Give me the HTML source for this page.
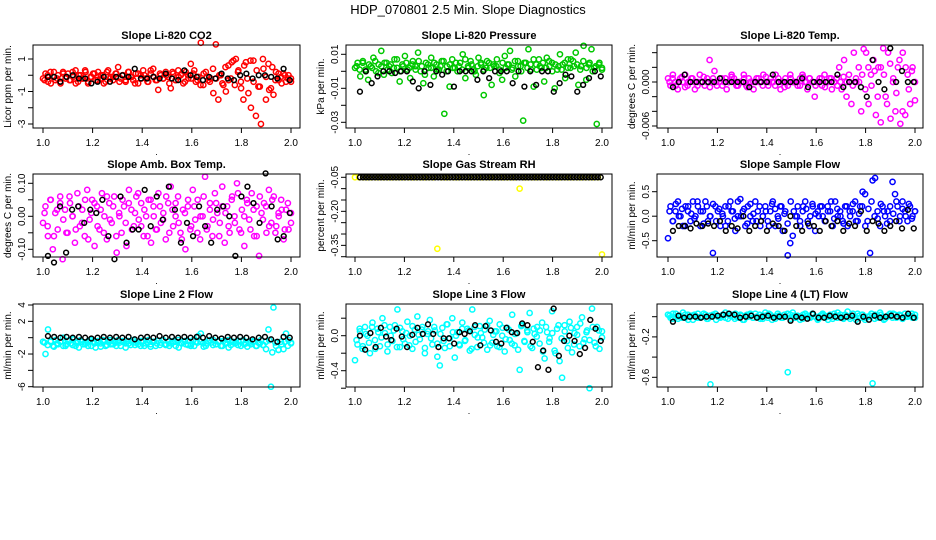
<!DOCTYPE html>
<html><head><meta charset="utf-8">
<style>
html,body{margin:0;padding:0;background:#fff;}
svg{display:block;font-family:"Liberation Sans",Arial,sans-serif;}
</style></head>
<body>
<svg id="chart" width="936" height="540" viewBox="0 0 936 540">
<text x="468" y="14" text-anchor="middle" font-size="13">HDP_070801  2.5 Min. Slope Diagnostics</text>
</svg>
<script>
const xTicks = [1.0, 1.2, 1.4, 1.6, 1.8, 2.0];
const xTickLabels = ["1.0", "1.2", "1.4", "1.6", "1.8", "2.0"];

const titles = ["Slope Li-820 CO2","Slope Li-820 Pressure","Slope Li-820 Temp.","Slope Amb. Box Temp.","Slope Gas Stream RH","Slope Sample Flow","Slope Line 2 Flow","Slope Line 3 Flow","Slope Line 4 (LT) Flow"];
const yTitles = ["Licor ppm per min.","kPa per min.","degrees C per min.","degrees C per min.","percent per min.","ml/min per min.","ml/min per min.","ml/min per min.","ml/min per min."];

const yTicks1 = [1,0,-1,-2,-3];
const yLabels1 = ["1","","-1","","-3"];
const yTicks2 = [0.01,0,-0.01,-0.02,-0.03];
const yLabels2 = ["0.01","","-0.01","","-0.03"];
const yTicks3 = [0.004,0.002,0,-0.002,-0.004,-0.006];
const yLabels3 = ["","","0.000","","","-0.006"];
const yTicks4 = [0.10,0.05,0,-0.05,-0.10];
const yLabels4 = ["0.10","","0.00","","-0.10"];
const yTicks5 = [-0.05,-0.10,-0.15,-0.20,-0.25,-0.30,-0.35,-0.40];
const yLabels5 = ["-0.05","","","-0.20","","","-0.35",""];
const yTicks6 = [0.5,0,-0.5];
const yLabels6 = ["0.5","0.0","-0.5"];
const yTicks7 = [4,2,0,-2,-4,-6];
const yLabels7 = ["4","2","","-2","","-6"];
const yTicks8 = [0.2,0,-0.2,-0.4,-0.6];
const yLabels8 = ["","0.0","","-0.4",""];
const yTicks9 = [0,-0.2,-0.4,-0.6];
const yLabels9 = ["","-0.2","","-0.6"];

const c1 = [-0.2,0.1,-0.4,0.2,-0.1,-0.3,0.0,-0.5,0.2,-0.2,0.1,-0.3,-0.1,0.3,-0.4,0.0,-0.2,0.2,-0.5,-0.1,0.1,-0.3,0.2,-0.2,0.0,-0.4,0.3,-0.1,-0.3,0.1,0.5,-0.2,0.0,-0.4,0.2,-0.1,-0.3,0.1,-0.5,0.0,0.3,-0.2,-0.4,0.1,0.4,-0.3,-0.9,0.0,-0.2,0.2,-0.1,-0.8,0.1,-0.3,0.3,0.0,-0.5,0.2,-0.2,0.7,0.1,-0.4,-0.1,2.0,-0.6,0.2,-0.3,-0.2,-1.1,1.9,-1.5,0.0,-0.6,-1.0,0.6,-0.2,0.9,1.0,0.3,-0.4,-1.5,0.8,-1.1,-2.0,0.9,-2.5,-0.7,-3.0,0.4,-1.5,0.7,-0.8,-1.2,0.2,-0.3,-0.1,0.1,-0.4,0.0,-0.2];
const e1 = [-0.3,0,-0.5,0.2,-0.2,-0.4,0.1,-0.1,-0.3,0.2,-0.5,0,-0.2,0.3,-0.4,-0.1,0.1,-0.3,0,-0.5,0.2,-0.2,-0.1,0.1,-0.4,0,-0.3,0.2,-0.1,-0.5,0.1,-0.2,0,-0.4,0.3,-0.1,-0.3,0.1,-0.2,0,-0.5,0.2,-0.3,-0.1,0.1,-0.4,0,-0.2,0.3,-0.3,-0.6,0.1,-0.1,-0.4,0.4,-0.2,0,-0.5,0.5,-0.3,0.8,-0.6,0.2,-0.8,0.6,-0.2,0.9,-0.4,0.3,-0.7,1.0,-0.1,-0.9,0.5,-0.3,0.1,-0.5,0,-0.2,-0.4];
const b1 = [-0.1,-0.1,-0.4,-0.1,0.0,-0.2,-0.2,-0.5,-0.4,-0.1,-0.4,-0.1,0.0,-0.1,0.4,-0.2,-0.2,-0.1,-0.2,0.1,-0.2,-0.3,0.3,0.0,-0.1,-0.3,-0.1,-0.2,0.1,-0.2,-0.3,0.0,0.1,-0.2,0.0,0.0,-0.1,-0.2,0.4,-0.3];
const c2 = [0.002,0.005,-0.003,0.006,0.001,-0.005,0.003,0.008,0,0.004,0.012,-0.002,0.005,0.003,-0.001,0.007,0.002,-0.006,0.004,0.009,0.001,-0.004,0.006,0.003,0.011,0,-0.007,0.005,0.002,0.008,-0.003,0.004,0.001,0.006,-0.025,0.003,-0.009,0.007,0.002,0,0.005,0.010,-0.004,0.003,0.006,0.001,-0.002,0.008,0.004,-0.014,0.002,0.005,-0.008,0.003,0.007,0.001,-0.005,0.009,0.004,0.012,0.002,-0.003,0.006,0.003,-0.029,0.005,0.013,0.001,-0.009,0.004,0.007,0.002,-0.006,0.008,0.003,0.005,-0.010,0.001,0.010,0.004,-0.004,0.007,0.002,0.006,0.011,-0.008,0.003,0.015,-0.005,0.004,0.013,0.002,-0.031,0.005,0.001];
const e2 = [0.003,0.001,0.005,0,0.004,0.002,0.006,-0.001,0.003,0.005,0.001,0.004,0.002,0.007,0,0.003,0.005,0.002,0.004,0.001,0.006,0.003,-0.002,0.004,0.002,0.005,0.001,0.003,0.006,0,0.004,0.002,0.005,0.003,0.001,0.007,0.002,0.004,0,0.003,0.005,0.001,0.006,0.002,0.004,0.003,-0.001,0.005,0.002,0.004,0.001,0.006,0.003,0,0.005,0.002,0.004,0.007,0.001,0.003,0.005,0.002,0.006,0,0.004,0.003,0.001,0.005,0.002,0.007,0.003,0.004,0.001,0.006,0.002,0.005,0,0.003,0.004,0.002];
const b2 = [-0.012,0,-0.007,-0.003,0,0,-0.001,0,0,-0.006,-0.010,0,-0.008,0,-0.002,0,-0.009,0,0,0,-0.005,0,-0.004,0,0,0,-0.007,0,-0.009,0,-0.008,0,0,-0.012,-0.007,-0.002,-0.003,-0.012,-0.008,-0.004,0,-0.003];
const c3 = [0.0005,-0.0005,0.001,0,-0.001,0.0005,0,0.001,-0.0005,0,0.0005,-0.001,0,0.001,0,-0.0005,0.0005,0.003,0,0.0015,-0.0005,0,0.0005,0,-0.001,0,0.001,0.0005,-0.0005,0,0,0.001,-0.0005,0.0005,0,-0.001,0,0.0005,0,0.001,0,-0.0005,0.0005,0,0.001,0,-0.001,0,0.0005,-0.0005,0.001,0,0,-0.0005,0.0005,0.001,0,-0.001,0.0005,0,-0.002,0,0.0005,-0.0005,0.001,0,0.0005,-0.001,0,0.0005,0.002,-0.001,0.003,-0.002,0.001,-0.003,0.004,0,0.002,-0.004,0.0045,0.004,-0.003,0.001,0.003,-0.0045,0.002,-0.0055,0.0046,-0.002,0.004,-0.005,0,-0.004,0.002,-0.0057,0.004,-0.0045,0.001,-0.003,0.002,0];
const e3 = [0,0.0005,-0.0005,0,0.0007,-0.0007,0,0.0005,0,-0.0005,0,0.0007,0,-0.0007,0.0005,0,0,-0.0005,0.0005,0,0.0007,0,-0.0005,0,0.0005,-0.0007,0,0,0.0005,0,-0.0005,0.0007,0,0,-0.0005,0.0005,0,-0.0007,0,0.0005,0,0,-0.0005,0.0007,0,0.0005,0,-0.0005,0,0.0005,-0.0007,0,0.0005,0,-0.0005,0,0.0007,0,0,-0.0005,0.0005,0,0.001,-0.001,0.002,-0.0005,0.0015,-0.002,0.002,0.001,-0.003,0.0025,0.0005,-0.0015,0.003,-0.004,0.002,-0.001,0.0015,-0.0025];
const b3 = [-0.0007,0,0.001,0,0,0,0,0,0.0005,0,0,0,0,-0.0007,0,0,0,0.001,0,0,0,0,0.0005,-0.0007,0,0,0,0,0.001,-0.0007,0,0,-0.0007,-0.002,0.003,0,-0.001,0.0046,0,0.0015,0,0];
const c4 = [-0.02,0.03,-0.06,0.05,-0.10,0.01,-0.04,0.06,-0.13,0.02,-0.05,0.04,0,-0.08,0.07,-0.03,0.02,-0.06,0.08,-0.01,0.05,-0.09,0.03,-0.04,0.07,0,-0.07,0.04,-0.02,0.06,-0.11,0.01,-0.05,0.03,-0.09,0.08,0.02,-0.03,0.06,-0.01,0.04,-0.06,0,0.05,-0.08,0.03,-0.04,0.07,-0.02,0.01,-0.07,0.04,0.09,-0.03,0,0.06,-0.05,0.02,-0.10,0.03,-0.04,0.08,-0.01,0.05,-0.07,0,0.12,-0.03,0.04,-0.06,0.07,0.01,-0.02,0.09,-0.08,0.03,-0.05,0.06,0,0.10,-0.04,0.02,-0.09,0.05,-0.01,0.07,-0.06,0.03,-0.12,0.01,0.04,-0.05,0.08,-0.02,0.06,-0.03,0,0.05,-0.07,0.02,-0.04,0.01];
const e4 = [0.01,-0.03,0.05,-0.06,0.02,0.04,-0.01,-0.05,0.06,0,-0.04,0.03,-0.02,0.05,-0.07,0.01,0.04,-0.03,0.02,-0.05,0.06,-0.01,0.03,-0.06,0,0.05,-0.02,0.04,-0.04,0.01,0.07,-0.03,0.02,-0.06,0.05,0,-0.04,0.03,-0.01,0.06,-0.05,0.02,0.04,-0.02,-0.07,0.01,0.05,-0.03,0.03,-0.05,0,0.06,-0.04,0.02,-0.01,0.04,-0.06,0.03,0.01,-0.03,0.05,-0.02,0.07,-0.05,0,0.04,-0.04,0.02,-0.06,0.06,-0.01,0.03,-0.03,0.05,-0.05,0.01,0.02,-0.04,0.04,-0.02];
const b4 = [-0.12,-0.14,0.03,-0.11,0.02,0.03,-0.02,0.02,0.01,0.05,-0.06,-0.13,0.06,-0.08,-0.04,-0.04,0.08,-0.03,0.06,-0.01,0.09,0.02,-0.08,-0.02,-0.06,0.03,-0.03,-0.08,0.02,0.03,0,-0.12,0.06,0.09,0.04,-0.02,0.13,0.03,-0.07,-0.06,0.01];
const c5 = [-0.05,-0.05,-0.05,-0.05,-0.05,-0.05,-0.05,-0.05,-0.05,-0.05,-0.05,-0.05,-0.05,-0.05,-0.05,-0.05,-0.05,-0.05,-0.05,-0.05,-0.365,-0.05,-0.05,-0.05,-0.05,-0.05,-0.05,-0.05,-0.05,-0.05,-0.05,-0.05,-0.05,-0.05,-0.05,-0.05,-0.05,-0.05,-0.05,-0.05,-0.10,-0.05,-0.05,-0.05,-0.05,-0.05,-0.05,-0.05,-0.05,-0.05,-0.05,-0.05,-0.05,-0.05,-0.05,-0.05,-0.05,-0.05,-0.05,-0.05,-0.39];
const e5 = [];
const b5 = [-0.05,-0.05,-0.05,-0.05,-0.05,-0.05,-0.05,-0.05,-0.05,-0.05,-0.05,-0.05,-0.05,-0.05,-0.05,-0.05,-0.05,-0.05,-0.05,-0.05,-0.05,-0.05,-0.05,-0.05,-0.05,-0.05,-0.05,-0.05,-0.05,-0.05,-0.05,-0.05,-0.05,-0.05,-0.05,-0.05,-0.05,-0.05,-0.05,-0.05,-0.05,-0.05,-0.05,-0.05,-0.05,-0.05,-0.05,-0.05,-0.05,-0.05,-0.05,-0.05,-0.05,-0.05,-0.05,-0.05,-0.05,-0.05,-0.05,-0.05,-0.05,-0.05,-0.05,-0.05,-0.05,-0.05,-0.05,-0.05,-0.05,-0.05,-0.05,-0.05,-0.05,-0.05,-0.05,-0.05,-0.05,-0.05,-0.05,-0.05,-0.05];
const c6 = [-0.45,0.2,-0.1,0.1,0.3,0,-0.2,0.2,0.1,-0.1,0.3,0,0.2,-0.2,0.1,0.3,-0.1,0,-0.75,0.2,0.1,-0.2,0,0.2,-0.1,0.3,0.1,-0.3,0,0.35,0.1,-0.2,0.2,0,-0.1,0.3,0.1,-0.2,0,0.2,-0.1,0.1,0.3,-0.2,0,0.2,-0.3,0.1,-0.8,-0.55,-0.4,0,0.2,-0.2,0.1,0.3,-0.1,0,0.2,-0.3,0.1,0.2,0,-0.1,0.2,0.1,-0.2,0.3,0,0.1,-0.1,0.2,-0.2,0,0.1,0.3,-0.1,0.2,0.5,0.45,-0.1,-0.75,0.73,0.78,0.1,-0.2,0.2,0,0.1,-0.1,0.7,0.45,0.2,0,0.3,0.1,-0.1,0.2,0,0.1];
const e6 = [0.1,-0.1,0.25,0,0.15,-0.2,0.2,0.05,-0.05,0.3,0.1,-0.15,0.2,0,0.25,-0.1,0.15,0.05,-0.2,0.2,0.1,-0.05,0.3,0,0.15,-0.15,0.25,0.05,-0.1,0.2,0,0.1,-0.2,0.25,0.15,-0.05,0.2,0.05,-0.15,0.3,0.1,0,-0.1,0.2,0.15,-0.2,0.25,0.05,0,0.2,-0.1,0.1,0.3,-0.05,0.15,0,-0.15,0.2,0.1,0.25,-0.1,0.05,0.2,-0.2,0.15,0.3,0,-0.05,0.25,0.1,-0.15,0.2,0.05,0.3,-0.1,0.15,0,0.25,-0.05,0.1];
const b6 = [-0.3,-0.2,-0.2,-0.25,-0.15,-0.2,-0.15,-0.2,-0.1,-0.3,-0.2,-0.25,0,-0.3,-0.2,-0.1,-0.3,-0.15,-0.2,-0.3,0,-0.2,-0.3,-0.15,-0.2,-0.3,-0.1,-0.2,-0.1,-0.3,-0.15,-0.2,0.1,-0.3,-0.1,-0.15,-0.3,-0.2,-0.1,-0.25,0.13,-0.25];
const c7 = [-0.5,-2,1,-0.5,-1,-0.3,-0.8,-0.5,0,-1,-0.4,-0.7,-0.2,-1,-0.5,-0.3,-0.8,-0.6,-1,-0.3,-0.5,-1.2,-0.4,-0.7,-0.3,-1,-0.5,-0.8,-0.4,-0.6,-0.3,-1,-0.5,-0.7,-0.4,-0.9,-0.3,-0.6,-0.5,-1,-0.4,-0.7,-0.3,-0.8,-0.5,-1,-0.4,-0.6,-0.3,-0.9,-0.5,-0.7,-0.4,-1,-0.3,-0.6,-0.5,-0.8,-0.4,-1,-0.3,-0.5,0.2,0.5,-0.7,-1,-0.4,-0.6,-0.3,-0.8,-0.5,-1,-0.4,-0.7,-0.3,-0.9,-0.5,-0.6,-0.4,-1,-0.3,-0.7,-0.5,-0.8,-0.4,-1,-0.6,-0.3,-0.9,-0.5,1,-6,3.7,-1,-1.5,-0.5,-1.4,0.5,-0.3,-0.6];
const e7 = [-0.6,-0.9,-0.4,-1.1,-0.7,-0.5,-1,-0.8,-0.3,-0.9,-0.6,-1.2,-0.5,-0.8,-0.4,-1,-0.7,-0.6,-1.1,-0.5,-0.9,-0.3,-0.8,-1,-0.6,-0.4,-1.2,-0.7,-0.5,-0.9,-0.8,-0.4,-1,-0.6,-1.1,-0.5,-0.7,-0.9,-0.3,-0.8,-1,-0.6,-0.5,-1.2,-0.7,-0.4,-0.9,-0.8,-1,-0.6,-0.5,-1.1,-0.7,-0.3,-0.9,-0.8,-0.4,-1,-0.6,-1.2,-0.5,-0.7,-0.9,-0.4,-0.8,-1.1,-0.6,-0.5,-1,-0.7,-0.9,-1.4,-0.3,-1.8,-0.6,-1.5,-0.8,-0.5,-1,-0.7];
const b7 = [0.2,0.1,0,0.1,0,0.1,0,-0.1,0,0.1,0,0.1,0,0.1,-0.2,0,0.1,0,0.2,0,0.1,0,0.1,0,0.1,0,0.2,0,-0.1,0.1,0,0.1,0,-0.2,0,0.1,-0.2,-0.5,0.1,0];
const c8 = [-0.28,-0.1,0.05,-0.15,0.1,0,-0.2,0.15,-0.05,0.08,-0.12,0.2,0.03,-0.18,0.1,-0.06,0.12,0.3,-0.13,0.05,-0.09,0.16,0,-0.15,0.07,0.22,-0.04,0.1,-0.2,0.02,0.18,-0.1,0.06,-0.24,-0.34,0.09,-0.14,0.13,-0.03,0.2,-0.25,0.04,-0.11,0.15,-0.06,0.08,-0.17,0.3,0.01,-0.13,0.11,-0.02,0.07,-0.16,0.17,-0.08,0.05,-0.12,0.13,0,-0.18,0.09,-0.05,0.24,-0.11,0.03,-0.39,0.12,-0.07,0.06,0.26,-0.14,0.02,0.1,-0.09,0.15,-0.26,0.04,-0.03,0.28,-0.17,0.08,-0.29,-0.48,0.12,-0.06,0.16,-0.19,0.03,0.1,-0.12,0.21,-0.04,0.06,-0.6,0.31,-0.08,0.1,-0.15,0.05];
const e8 = [-0.05,0.08,-0.12,0.02,-0.08,0.1,-0.15,0.04,-0.02,0.12,-0.1,0,0.06,-0.13,0.09,-0.04,0.03,-0.11,0.11,-0.07,0.01,0.07,-0.14,0.05,-0.03,0.1,-0.09,0.02,-0.06,0.13,-0.12,0.04,0,-0.1,0.08,-0.05,0.06,-0.15,0.1,-0.02,0.03,-0.08,0.12,-0.11,0.01,0.05,-0.13,0.09,-0.04,0.07,-0.09,0.02,-0.16,0.11,-0.06,0.04,-0.12,0.08,-0.01,0.06,-0.18,0.1,-0.07,0.03,-0.2,0.12,-0.03,0.05,-0.14,0.09,-0.1,0.01,0.14,-0.08,0.04,-0.05,0.1,-0.12,0.06,-0.02];
const b8 = [0,-0.16,0.03,-0.13,0.09,-0.01,-0.05,0.08,-0.01,-0.13,0.01,0.09,0.02,0.13,0.02,-0.13,-0.03,-0.03,-0.09,0.04,0.02,0.05,0.12,-0.11,0.11,0.06,-0.07,-0.09,0.09,0.04,0.03,0.14,0.12,-0.07,-0.36,-0.17,-0.39,0.31,-0.23,-0.06,0,-0.06,-0.21,-0.14,0.18,0.08,-0.06];
const c9 = [0.02,-0.01,0.03,0,-0.02,0.01,0.04,-0.01,0.02,0,-0.03,0.01,0.03,-0.01,0,0.02,-0.02,-0.67,0.01,0.03,0,-0.01,0.02,0.04,-0.02,0.01,0,0.03,-0.01,0.02,-0.03,0.01,0,0.02,-0.01,0.03,0,-0.02,0.01,0.04,-0.01,0.02,0,-0.02,0.03,0.01,-0.01,0,-0.55,0.02,0.04,-0.01,0.01,0,-0.02,0.03,0.01,-0.01,0.02,0,-0.03,0.01,0.03,-0.01,0,0.02,-0.02,0.01,0.04,0,-0.01,0.02,0.05,-0.02,0.01,0,0.03,-0.01,0.02,-0.03,0,0.01,-0.66,0.02,-0.01,0.04,0,-0.02,0.01,0.03,-0.01,0.02,0,0.01,-0.02,0.03,0,0.01,-0.01,0.02];
const e9 = [0.01,-0.02,0.03,0,-0.01,0.02,-0.03,0.01,0.02,-0.01,0,0.03,-0.02,0.01,0.02,-0.03,0,0.01,-0.01,0.03,0.02,-0.02,0,0.01,-0.03,0.02,0.03,-0.01,0,0.02,-0.02,0.01,0.03,-0.03,0,0.01,-0.01,0.02,0.03,-0.02,0.01,0,-0.03,0.02,0.01,-0.01,0.03,0,-0.02,0.02,0.01,-0.03,0,0.03,-0.01,0.02,-0.02,0.01,0,0.03,-0.03,0.01,0.02,-0.01,0,0.03,-0.02,0.01,0.02,-0.03,0,0.01,0.03,-0.01,0.02,-0.02,0,0.01,0.03,-0.01];
const b9 = [-0.05,0.01,-0.01,0,0,-0.01,0,0,0.01,0.02,0.03,0.02,-0.01,0,0.01,-0.01,0,0.01,-0.01,0,0,-0.04,0,-0.01,-0.02,0.03,-0.01,-0.01,0.01,0,-0.01,0,0.01,-0.05,0,-0.03,0.01,-0.01,0,0.01,0,-0.01,0.03,-0.01];

const colVals = [c1,c2,c3,c4,c5,c6,c7,c8,c9];
const extraVals = [e1,e2,e3,e4,e5,e6,e7,e8,e9];
const blkVals = [b1,b2,b3,b4,b5,b6,b7,b8,b9];
const yTickSets = [yTicks1,yTicks2,yTicks3,yTicks4,yTicks5,yTicks6,yTicks7,yTicks8,yTicks9];
const yLabelSets = [yLabels1,yLabels2,yLabels3,yLabels4,yLabels5,yLabels6,yLabels7,yLabels8,yLabels9];
const colors = ["#ff0000","#00c800","#ff00ff","#ff00ff","#ffff00","#0000ff","#00ffff","#00ffff","#00ffff"];

// layout (pixel geometry, not data)
const boxX = [[33,300],[346,612],[657,923]];
const xPix = [[43,291],[355,602],[668,915]];
const boxY = [[45,128],[174,257],[304,387]];
const yCal = [[1,59,-3,124],[0.01,54.3,-0.03,122.3],[0,82,-0.006,126],[0.10,183.3,-0.10,249.3],[-0.05,177.3,-0.40,256.7],[0.5,191.7,-0.5,240.7],[4,305,-6,386.7],[0,335.7,-0.4,370.7],[0,316.7,-0.6,377.3]];

const NS = "http://www.w3.org/2000/svg";
const svg = document.getElementById('chart');
function mk(tag, attrs, parent){
  const e = document.createElementNS(NS, tag);
  for (const k in attrs) e.setAttribute(k, attrs[k]);
  (parent||svg).appendChild(e);
  return e;
}

for (let p = 0; p < 9; p++) {
  const col = p % 3, row = Math.floor(p / 3);
  const [bx0,bx1] = boxX[col], [by0,by1] = boxY[row], [px0,px1] = xPix[col];
  const cal = yCal[p];
  const xs = v => px0 + (v - 1) * (px1 - px0);
  const ys = v => cal[1] + (v - cal[0]) * (cal[3] - cal[1]) / (cal[2] - cal[0]);
  const g = mk('g', {});
  
  
  const t = mk('text', {x:(bx0+bx1)/2, y:by0-6, 'text-anchor':'middle', 'font-size':'11', 'font-weight':'bold'}, g);
  t.textContent = titles[p];
  
  
  const yt = mk('text', {x:0, y:0, 'text-anchor':'middle', 'font-size':'10', transform:`translate(${bx0-22},${(by0+by1)/2}) rotate(-90)`}, g);
  yt.textContent = yTitles[p];
  
  
  const pts = mk('g', {fill:'none', 'stroke-width':'1.5'}, g);
  
  
  [colVals[p], extraVals[p]].forEach((cv, k) => {
    cv.forEach((v, i) => {
      const c = mk('circle', {cx: xs(1 + (i + k*0.5)/(cv.length-1 + k*0.5)), cy: ys(v), r: 2.6, stroke: colors[p]}, pts);
      
      
    });
  });
  const bv = blkVals[p];
  bv.forEach((v, i) => {
    const c = mk('circle', {cx: xs(1.02 + 0.975*i/(bv.length-1)), cy: ys(v), r: 2.4, stroke: '#000'}, pts);
    
    
  });
  const box = mk('rect', {x:bx0, y:by0, width:bx1-bx0, height:by1-by0, fill:'none', stroke:'#000', 'stroke-width':'1'}, g);
  
  
  xTicks.forEach((v, i) => {
    const X = xs(v);
    mk('line', {x1:X, x2:X, y1:by1, y2:by1+5, stroke:'#000'}, g);
    const l = mk('text', {x:X, y:by1+18, 'text-anchor':'middle', 'font-size':'10'}, g);
    l.textContent = xTickLabels[i];
    
    
  });
  const dot = mk('text', {x:(bx0+bx1)/2-10, y:by1+27, 'text-anchor':'middle', 'font-size':'9'}, g);
  dot.textContent = '.';
  yTickSets[p].forEach((v, i) => {
    const Y = ys(v);
    mk('line', {x1:bx0-5, x2:bx0, y1:Y, y2:Y, stroke:'#000'}, g);
    const s = yLabelSets[p][i];
    if (s) {
      const l = mk('text', {x:0, y:0, 'text-anchor':'middle', 'font-size':'10', transform:`translate(${bx0-8},${Y}) rotate(-90)`}, g);
      l.textContent = s;
      
      
    }
  });
}
</script>
</body></html>
